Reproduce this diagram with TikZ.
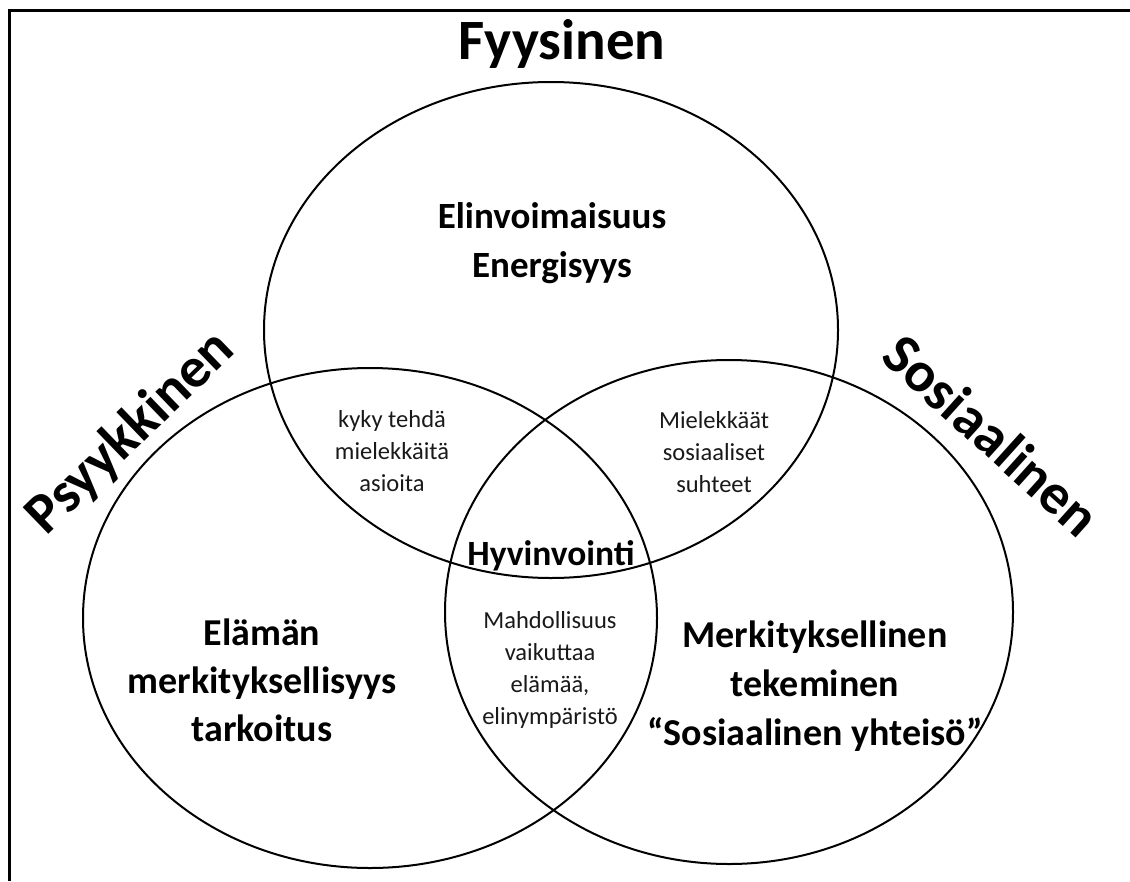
\documentclass[tikz,border=0pt]{standalone}
\usepackage{fontspec}
\setmainfont{Carlito}
\begin{document}
\begin{tikzpicture}[x=1pt,y=-1pt,
  ring/.style={line width=2pt,draw=black},
  bigtitle/.style={font=\bfseries\fontsize{57}{60}\selectfont,inner sep=0pt},
  midtext/.style={font=\bfseries\fontsize{37}{49}\selectfont,align=center,inner sep=0pt},
  smalltext/.style={font=\fontsize{24.5}{32}\selectfont,align=center,inner sep=0pt,text=black!90},
  centertext/.style={font=\bfseries\fontsize{35.5}{40}\selectfont,inner sep=0pt}]
\useasboundingbox (0,0) rectangle (1130,881);
% frame
\draw[line width=3.5pt] (9.5,881) -- (9.5,10.5) -- (1130,10.5);
% circles
\draw[ring] (551,330) ellipse [x radius=287pt, y radius=248pt];
\draw[ring] (370,618) ellipse [x radius=287pt, y radius=250pt];
\draw[ring] (729,612) ellipse [x radius=284pt, y radius=252pt];
% titles
\node[bigtitle] (fys) at (562,44) {Fyysinen};
\node[bigtitle,rotate=44] (psy) at (131,433) {Psyykkinen};
\node[bigtitle,rotate=-42] (sos) at (992,435) {Sosiaalinen};
% region texts
\node[midtext] (elin) at (552,243) {Elinvoimaisuus\\Energisyys};
\node[smalltext] (kyky) at (392,451) {kyky tehdä\\mielekkäitä\\asioita};
\node[smalltext] (miel) at (714,452) {Mielekkäät\\sosiaaliset\\suhteet};
\node[centertext] (hyv) at (551,556) {Hyvinvointi};
\node[smalltext] (mahd) at (550,670) {Mahdollisuus\\vaikuttaa\\elämää,\\elinympäristö};
\node[midtext,font=\bfseries\fontsize{38}{48}\selectfont] (elam) at (262,680) {Elämän\\merkityksellisyys\\tarkoitus};
\node[midtext,font=\bfseries\fontsize{38}{49}\selectfont] (merk) at (815,686) {Merkityksellinen\\tekeminen\\“Sosiaalinen yhteisö”};
\end{tikzpicture}
\end{document}
